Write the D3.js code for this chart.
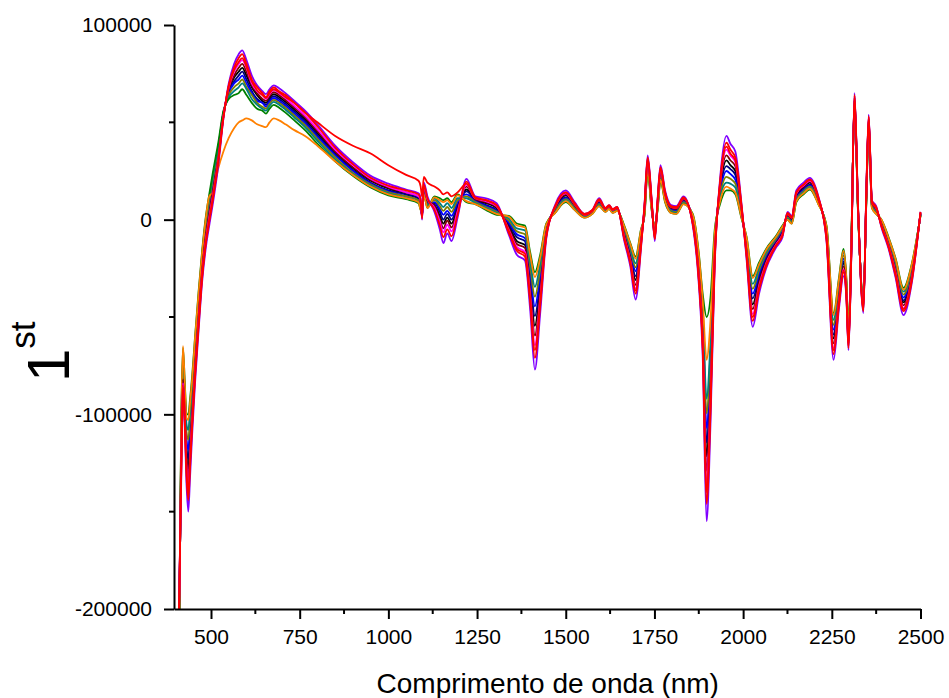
<!DOCTYPE html>
<html><head><meta charset="utf-8">
<script src="https://cdn.jsdelivr.net/npm/d3@7"></script>
<style>
body{margin:0;background:#fff}
svg{display:block}
text{font-family:"Liberation Sans",Arial,sans-serif;fill:#000}
</style>
</head><body>
<svg id="chart" width="949" height="698"></svg>
<script>
// wavelength (nm)
const wavelength = [400,411,416,421,426,431,436,441,447,455,
465,475,485,495,505,520,535,550,565,578,
588,600,615,630,645,655,665,677,692,710,
735,765,800,850,900,950,1000,1050,1085,1091,
1095,1100,1110,1130,1145,1155,1166,1178,1195,1220,
1245,1275,1305,1340,1362,1385,1400,1413,1428,1445,
1470,1500,1525,1553,1575,1594,1612,1622,1632,1645,
1665,1682,1697,1712,1722,1731,1742,1751,1759,1767,
1780,1797,1812,1832,1858,1875,1886,1897,1908,1920,
1935,1953,1964,1978,1995,2010,2027,2045,2065,2094,
2111,2125,2137,2150,2170,2188,2212,2235,2255,2270,
2283,2291,2297,2305,2314,2324,2339,2347,2354,2363,
2375,2390,2410,2430,2452,2475,2500];

// first-derivative values, in thousands
const sBlack = [-300,-194,-122,-79,-96,-120,-128,-114,-97,-73,
-48,-25,-8,4,15,32,54,66,73,76,
78,74,68,64,61,60,62.5,64.5,63,60.5,
56.5,51.5,44.5,34.5,26.5,20,16,13,11,8.5,
2,16.5,9.5,7.5,2,-2,1,-2,6.5,15.5,
10,8.5,6,-3.5,-11,-13,-33.5,-54.5,-34.5,-6.5,
5.5,12.5,7,2,4,9,5,6.5,4.5,5.5,
-7.5,-18.5,-31,-10.5,5.5,29.5,8.5,-7.5,8.5,24.5,
12.5,5.5,5,10,0,-26,-56.5,-121.5,-82.5,-16,
15.5,30.5,28,25,5.5,-15.5,-43.5,-31,-20.5,-11.5,
-6.5,2,0,12.5,16.5,19,10,-7.5,-61,-39,
-22.5,-35.5,-62.5,-15.5,62.5,5,-44.5,10.5,51.5,8,
5,-2,-12.5,-25.5,-42.5,-28.5,3];

const sNavy = [-300,-196,-119,-77,-94,-116,-123,-110,-94,-71,
-46,-23,-6,6,17,34,54,66,71,74,
76,72,66,62,60,59,61.5,63.5,62,59.5,
55.5,50.5,43.5,33.5,25.5,19,15,13,11,7.5,
2,15.5,8.5,8.5,4,0,3,0,7.5,14.5,
10,7.5,5,-2.5,-9,-11,-30.5,-49.5,-31.5,-5.5,
5.5,11.5,7,2,4,9,5,6.5,4.5,5.5,
-6.5,-17.5,-29,-9.5,4.5,28.5,7.5,-6.5,7.5,23.5,
11.5,5.5,5,10,0,-24,-53.5,-114.5,-77.5,-14,
14.5,27.5,26,23,4.5,-14.5,-40.5,-29,-19.5,-10.5,
-5.5,2,0,11.5,15.5,18,10,-6.5,-59,-37,
-21.5,-34.5,-61.5,-14.5,61.5,5,-43.5,9.5,50.5,8,
5,-2,-11.5,-24.5,-41.5,-27.5,3];

const sBlue = [-300,-198,-116,-74,-91,-113,-118,-106,-91,-68,
-44,-22,-5,7,18,35,55,65,70,72,
74,70,65,61,60,58,60.5,62.5,61,58.5,
54.5,49.5,42.5,33,25,18.5,14.5,12,10,7,
2.5,15,8,9,5.5,2.5,4.5,2,9,13,
9.5,7,4.5,-1.5,-7.5,-9.5,-27.5,-44.5,-28.5,-5,
5,11,6.5,1.5,3.5,8.5,4.5,6,4,5,
-6,-16,-26.5,-8.5,4,28,7,-6,7,23,
11,5,4.5,9.5,1,-22.5,-50.5,-107,-72.5,-12.5,
13,25,23.5,20.5,4,-13,-38,-27.5,-18.5,-10,
-5,1.5,-0.5,11,15,17.5,9.5,-6,-56.5,-35.5,
-20,-33.5,-60.5,-14,61,4.5,-43,9,50,7.5,
4.5,-1.5,-11,-23.5,-40,-26.5,2.5];

const sOlive = [-300,-200,-113,-72,-89,-109,-113,-102,-88,-66,
-42,-20,-3,9,20,36,55,64,68,70,
72,68,64,60,58,57,59.5,61.5,60,57.5,
53.5,48.5,41.5,32,24,18,14,12,10,6.5,
3,14.5,7.5,10,7,4.5,6.5,4,10,12,
9,6.5,4,-0.5,-6,-7.5,-24.5,-39.5,-25.5,-4,
4.5,10.5,6,1.5,3.5,8,4.5,6,4,5,
-5,-15,-24.5,-7.5,3.5,27,6.5,-5,6.5,22,
10.5,4.5,4,9,1.5,-21,-47.5,-99.5,-67.5,-11,
12,22,21,18.5,3,-12,-35.5,-26,-17.5,-9.5,
-4.5,1,-1,10.5,14.5,17,9,-5,-54,-34,
-18.5,-32.5,-59.5,-13,60.5,4,-42,8.5,49.5,7,
4,-1,-10.5,-22.5,-38.5,-25.5,2.5];

const sTeal = [-300,-202,-110,-70,-87,-105,-108,-98,-85,-64,
-40,-18,-1,11,22,37,55,63,66,68,
70,67,62,59,57,56,58.5,60.5,59,56.5,
52.5,47.5,40.5,31,23.5,17.5,13.5,11,9,6,
3.5,14,7,11,8.5,6.5,8.5,6,11,11,
8.5,6,3.5,0.5,-4.5,-5.5,-21.5,-34.5,-22.5,-3,
4,10,5.5,1.5,3.5,7.5,4.5,6,4,5,
-4,-14,-22.5,-6.5,3,26,6,-4,6,21,
10,4,3.5,8.5,2,-19.5,-44.5,-92,-62.5,-9.5,
11,19,18.5,16.5,2,-11,-33,-24.5,-16.5,-9,
-4,0.5,-1.5,10,14,16.5,8.5,-4,-51.5,-32.5,
-17,-31.5,-58.5,-12,60,3.5,-41,8,49,6.5,
3.5,-0.5,-10,-21.5,-37,-24.5,2.5];

const sGreen = [-300,-205,-105,-66,-83,-100,-100,-92,-80,-60,
-37,-16,1,13,24,39,56,62,64,65,
67,64,60,57,56,54.5,57,59,57.5,55,
51,46,39,30,22.5,16.5,12.5,10.5,8.5,5,
4,13,6,12,11,10,11,9,13,9,
8,5,2.5,2,-2,-3,-17,-27,-18,-2,
3.5,9,5,1,3,7,4,5.5,3.5,4.5,
-3,-12,-19,-5,2,25,5,-3,5,20,
9,3.5,3,8,3,-17,-38,-50,-40,-5,
8,15,15,13,1,-9,-29,-22,-15,-8,
-3,0,-2,9,13,15.5,8,-3,-48,-30,
-15,-30,-57,-11,59,3,-40,7,48,6,
3,0,-9,-20,-35,-23,2];

const sOrange = [-300,-204,-106.5,-65,-84,-102,-103,-94,-82,-61,
-38,-17,0,12,14,26,35,42,47,50,
51,52,51,49,48,47.5,50,52,51,49,
46,43,38,30,23,17,13,11,9,5,
4,13,6,11.5,10,9,10,8,12.5,9.5,
8,5.5,3,1.5,-3,-4,-18.5,-29.5,-19.5,-2.5,
3.5,9.5,5,1,3,7,4,5.5,3.5,4.5,
-3.5,-12.5,-20,-5.5,2.5,25.5,5.5,-3.5,5.5,20.5,
9.5,3.5,3,8,2.5,-18,-41.5,-72,-52,-7,
9.5,17,16,14,1.5,-9.5,-30,-23,-15.5,-8.5,
-3.5,0,-2,9.5,13.5,16,8,-3.5,-49,-31,
-16,-30.5,-57.5,-11.5,59.5,3,-40.5,7.5,48.5,6,
3,0,-9.5,-20.5,-36,-23.5,2];

const sWine = [-300,-192,-125,-82,-99,-123,-133,-118,-100,-76,
-50,-26,-9,3,14,31,53,67,74,78,
80,76,69,65,62,61,63.5,65.5,64,61.5,
57.5,52.5,45.5,35,27,20.5,16.5,14,12,9,
1.5,17,10,7,0.5,-4.5,-0.5,-4,5,17,
10.5,9,6.5,-4.5,-12.5,-14.5,-36.5,-59.5,-37.5,-7,
6,13,7.5,2.5,4.5,9.5,5.5,7,5,6,
-8,-20,-33.5,-11.5,6,30,9,-8,9,25,
13,6,5.5,10.5,-1,-27.5,-59.5,-129,-87.5,-17.5,
17,33,30.5,27.5,6,-17,-46,-32.5,-21.5,-12,
-7,2.5,0.5,13,17,19.5,10.5,-8,-63.5,-40.5,
-24,-36.5,-63.5,-16,63,5.5,-45,11,52,8.5,
5.5,-2.5,-13,-26.5,-44,-29.5,3.5];

const sMagenta = [-300,-190,-128,-84,-101,-127,-138,-122,-103,-78,
-52,-28,-11,1,12,30,53,68,76,80,
82,78,70,66,64,62,64.5,66.5,65,62.5,
58.5,53.5,46.5,36,28,21,17,14,12,9.5,
1,17.5,10.5,6,-1,-6.5,-2.5,-6,4,18,
11,9.5,7,-5.5,-14,-16.5,-39.5,-64.5,-40.5,-8,
6.5,13.5,8,2.5,4.5,10,5.5,7,5,6,
-9,-21,-35.5,-12.5,6.5,31,9.5,-9,9.5,26,
13.5,6.5,6,11,-1.5,-29,-62.5,-136.5,-92.5,-19,
18,36,33,29.5,7,-18,-48.5,-34,-22.5,-12.5,
-7.5,3,1,13.5,17.5,20,11,-9,-66,-42,
-25.5,-37.5,-64.5,-17,63.5,6,-46,11.5,52.5,9,
6,-3,-13.5,-27.5,-45.5,-30.5,3.5];

const sPurple = [-300,-185,-135,-90,-107,-136,-150,-132,-110,-84,
-57,-32,-15,-3,8,27,52,70,80,85,
87,82,74,69,66,64.5,67,69,67.5,65,
61,56,49,38,29.5,22.5,18.5,15.5,13.5,11,
0,19,12,4,-5,-12,-7,-11,1,21,
12,11,8.5,-8,-18,-21,-47,-77,-48,-10,
7.5,15,9,3,5,11,6,7.5,5.5,6.5,
-11,-24,-41,-15,8,33,11,-11,11,28,
15,7.5,7,12,-3,-33,-70,-155,-105,-23,
21,43,39,35,9,-21,-55,-38,-25,-14,
-9,4,2,15,19,21.5,12,-11,-72,-46,
-29,-40,-67,-19,65,7,-48,13,54,10,
7,-4,-15,-30,-49,-33,4];

const sRed1 = [-300,-188,-131,-87,-104,-132,-144,-127,-106,-81,
-55,-30,-13,-1,10,29,52,69,78,83,
85,80,72,68,65,63,66,68,66,64,
60,55,48,37,28.5,21.5,17.5,15,13,10,
0.5,18,11,5,-3,-9,-5,-8.5,2.5,19.5,
11.5,10,7.5,-7,-16,-19,-43,-71,-44,-9,
7,14,8.5,3,5,10.5,6,7.5,5.5,6.5,
-10,-22.5,-38,-14,7,32,10,-10,10,27,
14,7,6.5,11.5,-2,-31,-66,-146,-99,-21,
19.5,39.5,36,32,8,-19.5,-52,-36,-24,-13,
-8,3.5,1.5,14,18,20.5,11.5,-10,-69,-44,
-27,-39,-66,-18,64,6.5,-47,12,53,9.5,
6.5,-3.5,-14,-29,-47,-32,4];

const sRed2 = [-300,-189,-129,-85,-102,-129,-140,-124,-104,-79,
-53,-29,-12,0,11,29.5,53,68.5,77,81,
83,78.5,71,66.5,64,62.5,65,67,65.5,63,
60,55,50,43,38,34,28,23,20,17,
12,22,19,17,15,13,14,12,14,18.5,
11,10,7.5,-6,-15,-17.5,-41,-67,-42,-8.5,
6.5,14,8,2.5,4.5,10,5.5,7,5,6,
-9.5,-21.5,-36.5,-13,7,31.5,10,-9.5,10,26.5,
14,6.5,6,11,-2,-30,-64,-140,-95,-20,
18.5,37.5,34,30.5,7.5,-18.5,-50,-35,-23,-13,
-8,3,1,14,18,20.5,11,-9.5,-67,-43,
-26,-38,-65,-17.5,64,6,-46.5,12,53,9,
6,-3,-14,-28,-46,-31,3.5];

const seriesValues = [sBlack, sNavy, sBlue, sOlive, sTeal, sGreen, sOrange, sWine, sMagenta, sPurple, sRed1, sRed2];
const seriesColors = ["#000000","#000080","#0000ff","#808000","#008080","#008000","#ff8000","#800000","#ff00ff","#8000ff","#ff0000","#ff0000"];

const xTicks = [500,750,1000,1250,1500,1750,2000,2250,2500];
const xMinorTicks = [625,875,1125,1375,1625,1875,2125,2375];
const yTicks = [-200,-100,0,100];
const yTickLabels = ["-200000","-100000","0","100000"];
const yMinorTicks = [-150,-50,50];
const xTitle = "Comprimento de onda (nm)";
const yTitleMain = "1";
const yTitleSup = "st";

const svg = d3.select("#chart");
const plotLeft = 174, plotRight = 920.5, plotTop = 25, plotBottom = 609;

const x = d3.scaleLinear().domain([395.7, 2500]).range([plotLeft, plotRight]);
const y = d3.scaleLinear().domain([-200, 100]).range([plotBottom, plotTop]);

svg.append("defs").append("clipPath").attr("id","plotclip")
  .append("rect").attr("x", plotLeft).attr("y", plotTop).attr("width", plotRight - plotLeft + 2).attr("height", plotBottom - plotTop);

const line = d3.line()
  .defined(d => d[1] != null && !isNaN(d[1]))
  .x(d => x(d[0])).y(d => y(d[1]))
  .curve(d3.curveMonotoneX);

const g = svg.append("g").attr("clip-path","url(#plotclip)");
seriesValues.forEach((vals, i) => {
  g.append("path")
    .datum(wavelength.map((w, j) => [w, vals[j]]))
    .attr("fill","none")
    .attr("stroke", seriesColors[i])
    .attr("stroke-width", 1.8)
    .attr("stroke-linejoin","round")
    .attr("d", line);
});

// axes
const yAxis = d3.axisLeft(y).tickValues(yTicks).tickSize(10).tickSizeOuter(0).tickPadding(12)
  .tickFormat((d, i) => yTickLabels[i]);
const gy = svg.append("g").attr("transform", `translate(${plotLeft},0)`).call(yAxis);
gy.selectAll("text").attr("font-size", 21).style("font-family", '"Liberation Sans", Arial, sans-serif');
gy.append("g").selectAll("line").data(yMinorTicks).join("line")
  .attr("x1", 0).attr("x2", -5).attr("y1", d => y(d)).attr("y2", d => y(d))
  .attr("stroke", "#000").attr("stroke-width", 2);

const xAxis = d3.axisBottom(x).tickValues(xTicks).tickSize(10).tickSizeOuter(0).tickPadding(10)
  .tickFormat(d3.format("d"));
const gx = svg.append("g").attr("transform", `translate(0,${plotBottom})`).call(xAxis);
gx.selectAll("text").attr("font-size", 21).style("font-family", '"Liberation Sans", Arial, sans-serif');
gx.append("g").selectAll("line").data(xMinorTicks).join("line")
  .attr("y1", 0).attr("y2", 5).attr("x1", d => x(d)).attr("x2", d => x(d))
  .attr("stroke", "#000").attr("stroke-width", 2);

[gx, gy].forEach(a => {
  a.select(".domain").attr("stroke", "#000").attr("stroke-width", 2);
  a.selectAll(".tick line").attr("stroke", "#000").attr("stroke-width", 2);
  a.selectAll(".tick text").attr("fill", "#000");
});

// titles
svg.append("text").attr("x", (plotLeft + plotRight) / 2 + 0.5).attr("y", 693)
  .attr("text-anchor", "middle").attr("font-size", 28).text(xTitle);

const yt = svg.append("text").attr("transform", "translate(69,382) rotate(-90)");
yt.append("tspan").attr("font-size", 60).text(yTitleMain);
yt.append("tspan").attr("font-size", 35).attr("dy", -34).text(yTitleSup);
</script>
</body></html>
